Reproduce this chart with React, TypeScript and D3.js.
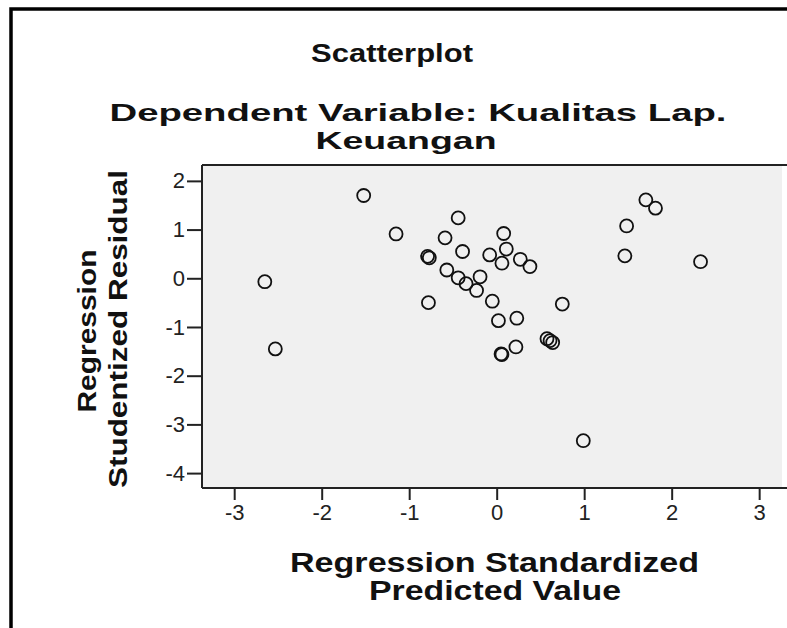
import React, { useEffect, useRef } from 'react';
import * as d3 from 'd3';

// Regression Standardized Predicted Value (x) / Studentized Residual (y)
const predicted = [
  -2.65, -2.53, -1.52, -1.15, -0.79, -0.77, -0.78, -0.59, -0.44, -0.39,
  -0.57, -0.44, -0.35, -0.23, -0.19, -0.08, 0.08, 0.11, 0.06, 0.27,
  0.38, -0.05, 0.02, 0.23, 0.75, 0.575, 0.61, 0.64, 0.22, 0.05,
  0.06, 0.99, 1.485, 1.465, 1.705, 1.815, 2.33,
];
const residual = [
  -0.07, -1.45, 1.7, 0.91, 0.45, 0.42, -0.5, 0.83, 1.24, 0.55,
  0.17, 0.01, -0.11, -0.25, 0.03, 0.48, 0.92, 0.6, 0.31, 0.39,
  0.24, -0.47, -0.87, -0.82, -0.53, -1.24, -1.28, -1.32, -1.41, -1.555,
  -1.565, -3.335, 1.075, 0.46, 1.61, 1.44, 0.34,
];

const xTicks = [-3, -2, -1, 0, 1, 2, 3];
const yTicks = [2, 1, 0, -1, -2, -3, -4];
const xDomain = [-3.368, 3.261];
const yDomain = [-4.306, 2.326];

const title = 'Scatterplot';
const subtitle = ['Dependent Variable: Kualitas Lap.', 'Keuangan'];
const xTitle = ['Regression Standardized', 'Predicted Value'];
const yTitle = ['Regression', 'Studentized Residual'];

export default function App() {
  const svgRef = useRef<SVGSVGElement>(null);

  useEffect(() => {
    const svg = d3.select(svgRef.current);
    svg.selectAll('*').remove();

    const font = "'Liberation Sans', Arial, sans-serif";
    const plot = { left: 202, right: 782, top: 165, bottom: 488 };

    const xScale = d3.scaleLinear().domain(xDomain).range([plot.left, plot.right]);
    const yScale = d3.scaleLinear().domain(yDomain).range([plot.bottom, plot.top]);

    // outer frame (runs off the right and bottom edge)
    svg
      .append('rect')
      .attr('x', 11)
      .attr('y', 9)
      .attr('width', 820)
      .attr('height', 660)
      .attr('fill', 'none')
      .attr('stroke', '#000')
      .attr('stroke-width', 3.5);

    svg
      .append('rect')
      .attr('x', plot.left)
      .attr('y', plot.top)
      .attr('width', plot.right - plot.left)
      .attr('height', plot.bottom - plot.top)
      .attr('fill', '#f0f0f0');

    const frame = svg.append('g').attr('stroke', '#222').attr('stroke-width', 2);
    frame.append('line').attr('x1', plot.left).attr('x2', 787).attr('y1', plot.top).attr('y2', plot.top);
    frame.append('line').attr('x1', plot.left).attr('x2', 787).attr('y1', plot.bottom).attr('y2', plot.bottom);
    frame.append('line').attr('x1', plot.left).attr('x2', plot.left).attr('y1', plot.top).attr('y2', plot.bottom);

    const xAxis = svg
      .append('g')
      .attr('transform', `translate(0, ${plot.bottom})`)
      .attr('font-size', 23)
      .call(d3.axisBottom(xScale).tickValues(xTicks).tickSize(12).tickPadding(4));
    xAxis.select('.domain').remove();
    xAxis.selectAll('.tick line').attr('stroke', '#222').attr('stroke-width', 2);

    const yAxis = svg
      .append('g')
      .attr('transform', `translate(${plot.left}, 0)`)
      .call(d3.axisLeft(yScale).tickValues(yTicks).tickSize(15).tickPadding(2));
    yAxis.select('.domain').remove();
    yAxis.selectAll('.tick line').attr('stroke', '#222').attr('stroke-width', 2);

    // plain hyphen as minus sign, like the original
    svg
      .selectAll('.tick text')
      .text((d: any) => String(d))
      .attr('fill', '#222')
      .style('font-family', font)
      .style('font-size', '22px');

    svg
      .append('g')
      .selectAll('circle')
      .data(predicted.map((p, i) => ({ p, r: residual[i] })))
      .join('circle')
      .attr('cx', (d) => xScale(d.p))
      .attr('cy', (d) => yScale(d.r))
      .attr('r', 6.5)
      .attr('fill', 'none')
      .attr('stroke', '#111')
      .attr('stroke-width', 1.8);

    const addText = (
      str: string,
      x: number,
      y: number,
      size: number,
      weight: string,
      len: number,
      rotate = false
    ) => {
      svg
        .append('text')
        .attr('transform', rotate ? `translate(${x}, ${y}) rotate(-90)` : `translate(${x}, ${y})`)
        .attr('text-anchor', 'middle')
        .attr('textLength', len)
        .attr('lengthAdjust', 'spacingAndGlyphs')
        .style('font-family', font)
        .style('font-size', `${size}px`)
        .style('font-weight', weight)
        .attr('fill', '#111')
        .text(str);
    };

    addText(title, 392, 62, 26, 'bold', 162);
    addText(subtitle[0], 418, 121, 24, 'bold', 617);
    addText(subtitle[1], 406, 149, 24, 'bold', 181);
    addText(xTitle[0], 494.5, 572, 27, 'bold', 409);
    addText(xTitle[1], 495, 600, 27, 'bold', 252);
    addText(yTitle[0], 96, 331, 25, 'bold', 163, true);
    addText(yTitle[1], 127, 329, 25, 'bold', 318, true);
  }, []);

  return (
    <div style={{ position: 'absolute', left: 0, top: 0, width: 787, height: 628, overflow: 'hidden' }}>
      <svg ref={svgRef} width={787} height={628} style={{ display: 'block', background: '#fff' }} />
    </div>
  );
}
